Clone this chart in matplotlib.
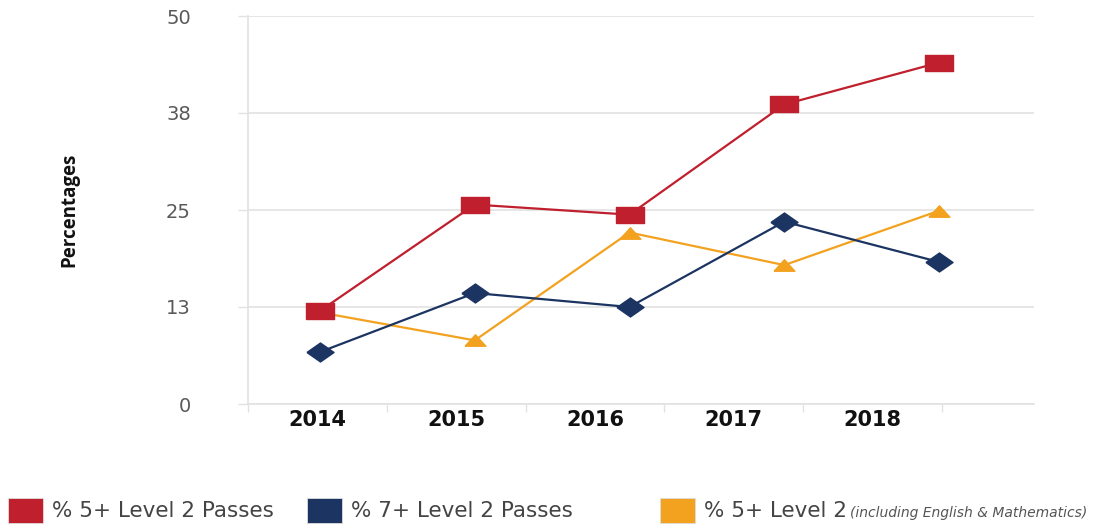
"""Percentage of pupils reaching Level 2 pass thresholds, 2014-2018."""

import numpy as np
import matplotlib
matplotlib.use("Agg")
import matplotlib.pyplot as plt
from matplotlib.patches import Rectangle

years = ["2014", "2015", "2016", "2017", "2018"]
pass5 = [12.0, 25.7, 24.4, 38.6, 44.0]
pass7 = [6.7, 14.3, 12.5, 23.5, 18.3]
pass5_em = [11.8, 8.2, 22.1, 17.9, 24.9]
ytick_vals = [0, 12.5, 25, 37.5, 50]
ytick_labels = ["0", "13", "25", "38", "50"]

RED = "#C01F2E"
NAVY = "#1C3461"
ORANGE = "#F2A21F"
GRID = "#E2E2E2"

W, H = 1107, 525
fig = plt.figure(figsize=(W / 100, H / 100), dpi=100)
fig.patch.set_facecolor("white")

# axes box in pixels: left 248, right 1034, top 16, bottom 404
ax = fig.add_axes([248 / W, (H - 404) / H, (1034 - 248) / W, (404 - 16) / H])

# points sit 154.75 px apart starting at x=320; category bands are 138.8 px wide from x=248
pt0, pt_step, band0, band_w = 320.0, 154.75, 248.0, 138.8
to_idx = lambda px: (px - pt0) / pt_step
ax.set_xlim(to_idx(248), to_idx(1034))
ax.set_ylim(0, 50)

x = np.arange(len(years))

square = [(-1, -0.62), (1, -0.62), (1, 0.62), (-1, 0.62), (-1, -0.62)]
diamond = [(-1, 0), (0, 0.7), (1, 0), (0, -0.7), (-1, 0)]
triangle = [(-1, -0.55), (1, -0.55), (0, 0.55), (-1, -0.55)]

ax.plot(x, pass5_em, color=ORANGE, lw=1.6, marker=triangle, ms=15, mec=ORANGE, zorder=3)
ax.plot(x, pass7, color=NAVY, lw=1.6, marker=diamond, ms=19.5, mec=NAVY, zorder=4)
ax.plot(x, pass5, color=RED, lw=1.6, marker=square, ms=19.5, mec=RED, zorder=5)

# y axis
ax.set_yticks(ytick_vals)
ax.set_yticklabels(ytick_labels)
ax.tick_params(axis="y", length=7.2, width=1, color=GRID, pad=34, labelsize=14, labelcolor="#595959")
ax.grid(axis="y", color=GRID, lw=1.2)
ax.set_axisbelow(True)

# x axis: band edges as major ticks, year labels at band centres
edges = [to_idx(band0 + band_w * k) for k in range(len(years) + 1)]
centres = [to_idx(band0 + band_w * (k + 0.5)) for k in range(len(years))]
ax.set_xticks(edges)
ax.set_xticklabels([])
ax.set_xticks(centres, minor=True)
ax.set_xticklabels(years, minor=True, fontsize=15, fontweight="bold", color="#111111")
ax.tick_params(axis="x", which="major", length=6, width=1, color=GRID, direction="out")
ax.tick_params(axis="x", which="minor", length=0, pad=4)

for s in ["top", "right"]:
    ax.spines[s].set_visible(False)
for s in ["left", "bottom"]:
    ax.spines[s].set_color(GRID)
    ax.spines[s].set_linewidth(1.2)

ax.set_ylabel("Percentages", fontsize=13.5, fontweight="bold", family="Open Sans", color="#111111")
ax.yaxis.set_label_coords(-0.214, 0.5)

# legend along the bottom edge
legend_items = [
    (RED, 8, "% 5+ Level 2 Passes"),
    (NAVY, 307, "% 7+ Level 2 Passes"),
    (ORANGE, 660, "% 5+ Level 2"),
]
for col, px, label in legend_items:
    fig.patches.append(Rectangle((px / W, 2 / H), 35 / W, 25 / H, transform=fig.transFigure,
                                 facecolor=col, edgecolor="#dddddd", lw=0.6))
    fig.text((px + 44) / W, 14 / H, label, fontsize=15.5, color="#444444", ha="left", va="center")

fig.text(850 / W, 12 / H, "(including English & Mathematics)", fontsize=10, style="italic",
         color="#555555", ha="left", va="center")

fig.savefig("out.png", dpi=100, facecolor="white")
plt.close(fig)
